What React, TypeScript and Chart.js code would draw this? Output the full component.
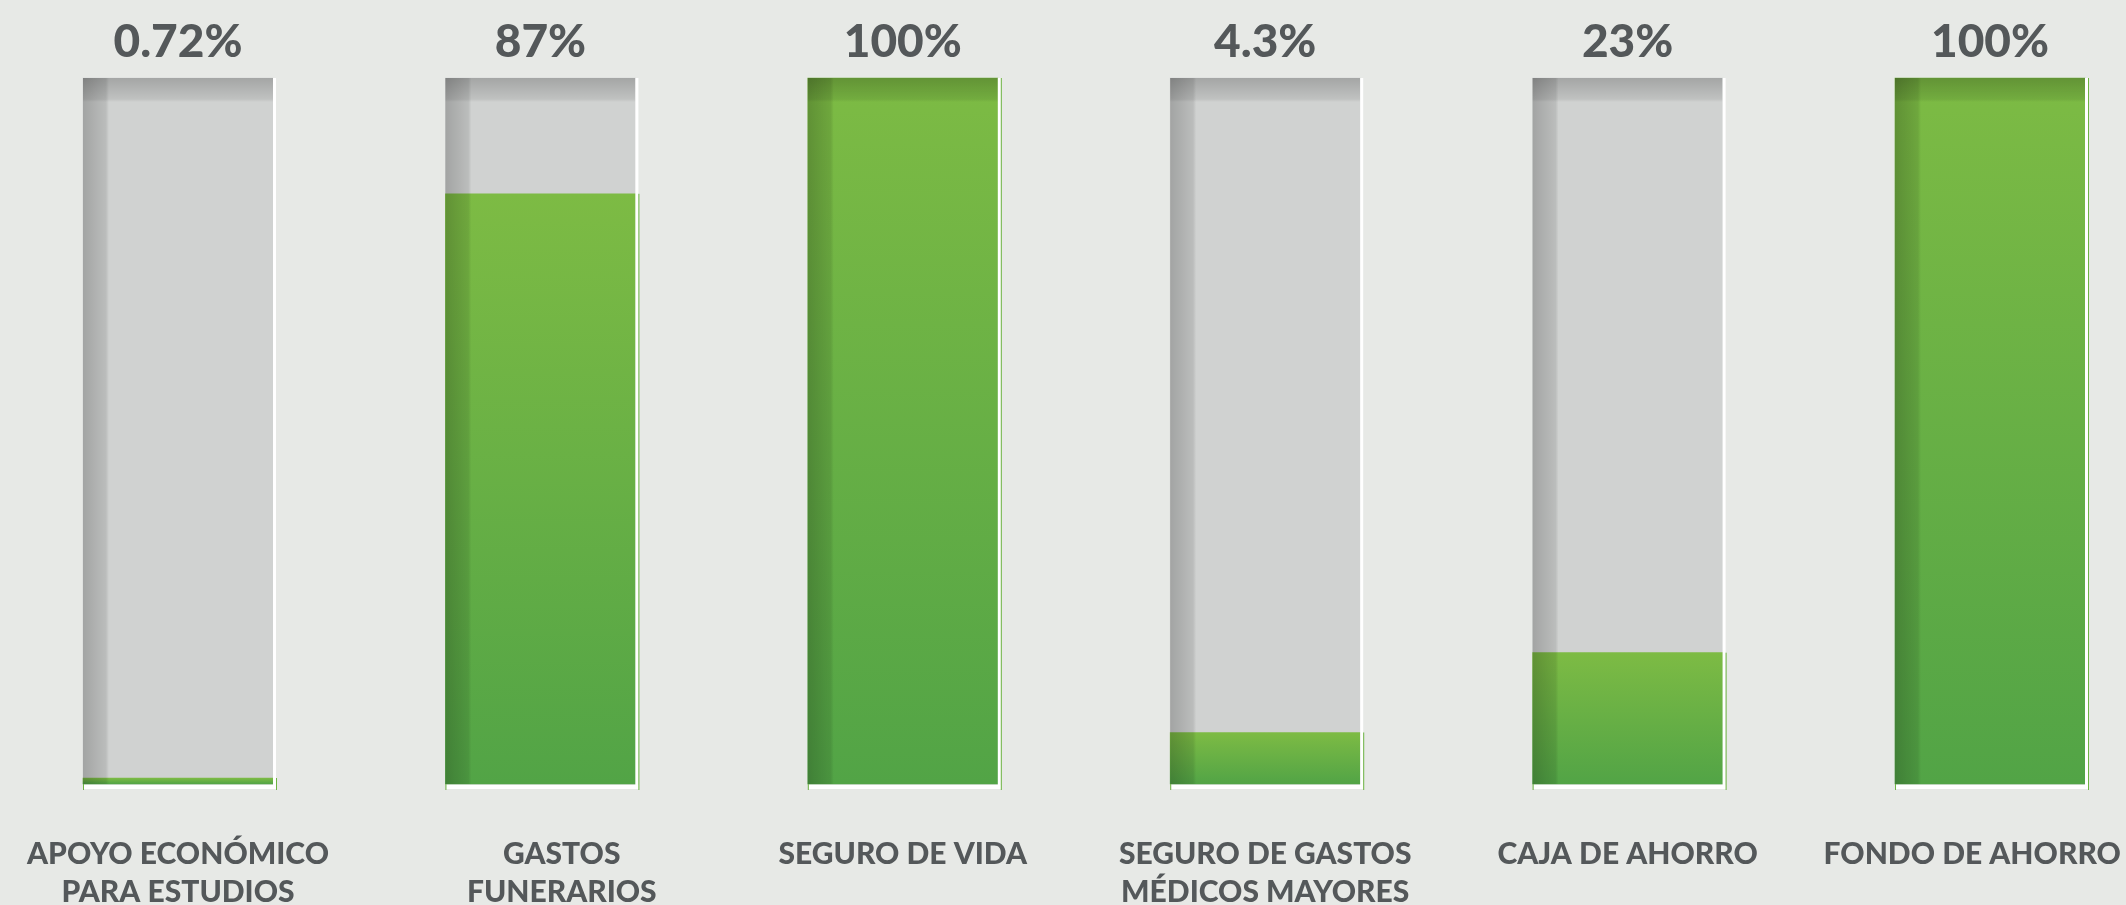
import { useEffect, useRef } from 'react';
import { Chart, registerables } from 'chart.js';

Chart.register(...registerables);

// ---- data ----
const categories: (string | string[])[] = [
  ['APOYO ECONÓMICO', 'PARA ESTUDIOS'],
  ['GASTOS', 'FUNERARIOS'],
  'SEGURO DE VIDA',
  ['SEGURO DE GASTOS', 'MÉDICOS MAYORES'],
  'CAJA DE AHORRO',
  'FONDO DE AHORRO',
];
// bar heights as drawn in the picture (percent of the full track)
const barHeights = [0.85, 83.6, 100, 7.3, 18.6, 100];
// printed values above each bar
const valueLabels = ['0.72%', '87%', '100%', '4.3%', '23%', '100%'];
const trackValues = [100, 100, 100, 100, 100, 100];

// ---- style ----
const BG = '#e7e9e6';
const TEXT = '#54585a';
const TRACK = '#d0d2d1';
const GREEN_TOP = '#7dbb44';
const GREEN_BOTTOM = '#52a446';
const GREEN_EDGE = '#6db443';
const FONT = 'Lato';
// small horizontal nudges of some labels (in space characters) to mimic the original layout
const leadPad = [0, 6, 0, 0, 0, 0];
const trailPad = [0, 0, 0, 0, 0, 5];

const greenFill = (c: any) => {
  const chart = c.chart;
  if (!chart.chartArea || c.type !== 'data') return GREEN_TOP;
  const y = chart.scales.y;
  const top = y.getPixelForValue(c.raw as number);
  const bottom = y.getPixelForValue(0);
  const g = chart.ctx.createLinearGradient(0, top, 0, bottom + 0.01);
  g.addColorStop(0, GREEN_TOP);
  g.addColorStop(1, GREEN_BOTTOM);
  return g;
};

const barDecor = {
  id: 'barDecor',
  afterDatasetsDraw(chart: any) {
    const ctx = chart.ctx as CanvasRenderingContext2D;
    const valueMeta = chart.getDatasetMeta(0);
    const trackMeta = chart.getDatasetMeta(1);
    ctx.save();
    trackMeta.data.forEach((el: any, i: number) => {
      const { x, y, base, width } = el.getProps(['x', 'y', 'base', 'width'], true);
      const left = x - width / 2;
      const right = x + width / 2;
      const h = base - y;
      // left shading stripe
      const lg = ctx.createLinearGradient(left, 0, left + 26, 0);
      lg.addColorStop(0, 'rgba(0,0,0,0.22)');
      lg.addColorStop(0.88, 'rgba(0,0,0,0.1)');
      lg.addColorStop(1, 'rgba(0,0,0,0)');
      ctx.fillStyle = lg;
      ctx.fillRect(left, y, 26, h);
      // top shading band
      const tg = ctx.createLinearGradient(0, y, 0, y + 24);
      tg.addColorStop(0, 'rgba(0,0,0,0.21)');
      tg.addColorStop(0.88, 'rgba(0,0,0,0.08)');
      tg.addColorStop(1, 'rgba(0,0,0,0)');
      ctx.fillStyle = tg;
      ctx.fillRect(left, y, width, 24);
      // white frame (right + bottom)
      ctx.fillStyle = '#ffffff';
      ctx.fillRect(right, y, 3, h + 5);
      ctx.fillRect(left + 1, base + 1, width + 2, 4);
      // green edges
      const v = valueMeta.data[i];
      ctx.fillStyle = GREEN_EDGE;
      ctx.fillRect(right + 3, v.y, 1, base - v.y + 6);
      ctx.fillRect(left, base, 1, 6);
    });
    ctx.restore();
  },
};

const padLabel = (label: string | string[], i: number) => {
  const lines = Array.isArray(label) ? label : [label];
  const out = lines.map((l) => ' '.repeat(leadPad[i]) + l + ' '.repeat(trailPad[i]));
  return out.length === 1 ? out[0] : out;
};

export default function App() {
  const ref = useRef<HTMLCanvasElement>(null);
  useEffect(() => {
    document.body.style.margin = '0';
    document.body.style.background = BG;
    const canvas = ref.current!;
    const chart = new Chart(canvas, {
      type: 'bar',
      data: {
        labels: categories as any,
        datasets: [
          {
            label: 'Porcentaje',
            data: barHeights,
            backgroundColor: greenFill as any,
            grouped: false,
            barThickness: 190,
            clip: false as any,
            order: 0,
            borderWidth: 0,
          },
          {
            label: 'Total',
            data: trackValues,
            backgroundColor: TRACK,
            grouped: false,
            barThickness: 190,
            clip: false as any,
            order: 1,
            borderWidth: 0,
          },
        ],
      },
      options: {
        responsive: false,
        animation: false,
        events: [],
        layout: { padding: { left: 178, right: 136, top: 0, bottom: 0 } },
        plugins: { legend: { display: false }, tooltip: { enabled: false } },
        scales: {
          x: {
            type: 'category',
            offset: false,
            grid: { display: false, drawTicks: false },
            border: { display: false },
            ticks: {
              autoSkip: false,
              maxRotation: 0,
              minRotation: 0,
              padding: 51,
              color: TEXT,
              font: { family: FONT, weight: '900' as any, size: 30, lineHeight: 38 / 30 },
              callback: function (this: any, _v: any, i: number) {
                return padLabel(categories[i], i);
              },
            },
            afterFit: (s: any) => {
              s.height = 121;
              s.paddingLeft = 0;
              s.paddingRight = 0;
            },
          },
          x2: {
            type: 'category',
            labels: valueLabels,
            position: 'top',
            offset: false,
            grid: { display: false, drawTicks: false },
            border: { display: false },
            ticks: {
              autoSkip: false,
              maxRotation: 0,
              minRotation: 0,
              padding: 8,
              color: TEXT,
              font: { family: FONT, weight: '900' as any, size: 46, lineHeight: 1.2 },
            },
            afterFit: (s: any) => {
              s.height = 78;
              s.paddingLeft = 0;
              s.paddingRight = 0;
            },
          },
          y: { display: false, min: 0, max: 100 },
        },
      },
      plugins: [barDecor],
    });
    return () => chart.destroy();
  }, []);
  return (
    <div style={{ width: 2126, height: 905, background: BG }}>
      <canvas ref={ref} width={2126} height={905} style={{ display: 'block' }} />
    </div>
  );
}
